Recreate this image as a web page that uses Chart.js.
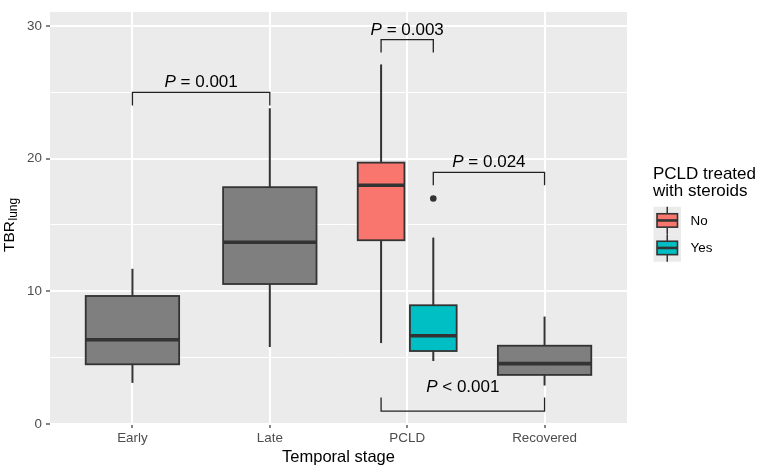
<!DOCTYPE html>
<html>
<head>
<meta charset="utf-8">
<script src="https://cdn.jsdelivr.net/npm/chart.js@4.4.1/dist/chart.umd.min.js"></script>
<style>
  html, body { margin: 0; padding: 0; background: #fff; }
</style>
</head>
<body>
<canvas id="chart" width="760" height="467"></canvas>
<script>
const categories = ['Early', 'Late', 'PCLD', 'Recovered'];

// one entry per box: which category it sits on, and the steroid group (null = not split)
const boxCategory = [0, 1, 2, 2, 3];
const boxTreated = [null, null, 'No', 'Yes', null];
const whiskerLow = [3.1, 5.8, 6.1, 4.75, 2.9];
const lowerQuartile = [4.5, 10.55, 13.85, 5.5, 3.7];
const medians = [6.35, 13.7, 18.0, 6.65, 4.55];
const upperQuartile = [9.65, 17.85, 19.7, 8.95, 5.9];
const whiskerHigh = [11.7, 23.8, 27.1, 14.05, 8.1];

const outlierBox = [3];
const outlierValue = [17.0];

const yTicks = [0, 5, 10, 15, 20, 25, 30];

// significance brackets between boxes
const bracketFrom = [0, 2, 3, 2];
const bracketTo = [1, 3, 4, 4];
const bracketLevel = [25.0, 28.97, 18.96, 0.97];
const bracketTip = [24.0, 28.0, 18.0, 2.0];
const bracketText = ['= 0.001', '= 0.003', '= 0.024', '< 0.001'];

const legendLabels = ['No', 'Yes'];
const legendFill = { No: '#F8766D', Yes: '#00BFC4' };

const FONT = '"Liberation Sans", Arial, sans-serif';
const BOX_WIDTH = 0.68;
const DODGE = 0.19;

function boxX(i) {
    const t = boxTreated[i];
    if (t === 'No') return boxCategory[i] - DODGE;
    if (t === 'Yes') return boxCategory[i] + DODGE;
    return boxCategory[i];
}

function boxFill(i) {
    return boxTreated[i] ? legendFill[boxTreated[i]] : '#7F7F7F';
}

function line(ctx, x1, y1, x2, y2) {
    ctx.beginPath();
    ctx.moveTo(x1, y1);
    ctx.lineTo(x2, y2);
    ctx.stroke();
}

const panelPlugin = {
    id: 'panel',
    beforeDraw(chart) {
        const { ctx, chartArea: a } = chart;
        ctx.save();
        ctx.fillStyle = '#EBEBEB';
        ctx.fillRect(a.left, a.top, a.right - a.left, a.bottom - a.top);
        ctx.restore();
    }
};

const boxPlugin = {
    id: 'boxes',
    beforeDatasetsDraw(chart) {
        const { ctx, scales: { x, y } } = chart;
        const unit = x.getPixelForValue(1) - x.getPixelForValue(0);
        ctx.save();
        ctx.strokeStyle = '#333333';
        for (let i = 0; i < medians.length; i++) {
            const xc = x.getPixelForValue(boxX(i));
            const half = (boxTreated[i] ? BOX_WIDTH / 2 : BOX_WIDTH) * unit / 2;
            const q1 = y.getPixelForValue(lowerQuartile[i]);
            const q3 = y.getPixelForValue(upperQuartile[i]);
            ctx.lineWidth = 2;
            line(ctx, xc, y.getPixelForValue(whiskerHigh[i]), xc, q3);
            line(ctx, xc, q1, xc, y.getPixelForValue(whiskerLow[i]));
            ctx.fillStyle = boxFill(i);
            ctx.fillRect(xc - half, q3, half * 2, q1 - q3);
            ctx.lineWidth = 1.8;
            ctx.strokeRect(xc - half, q3, half * 2, q1 - q3);
            ctx.lineWidth = 3.6;
            const m = y.getPixelForValue(medians[i]);
            line(ctx, xc - half, m, xc + half, m);
        }
        ctx.restore();
    },
    afterDatasetsDraw(chart) {
        const { ctx, scales: { x, y } } = chart;
        ctx.save();
        ctx.strokeStyle = '#222222';
        ctx.lineWidth = 1.3;
        ctx.fillStyle = '#000';
        ctx.textBaseline = 'alphabetic';
        for (let i = 0; i < bracketText.length; i++) {
            const x1 = x.getPixelForValue(boxX(bracketFrom[i]));
            const x2 = x.getPixelForValue(boxX(bracketTo[i]));
            const yl = y.getPixelForValue(bracketLevel[i]);
            const yt = y.getPixelForValue(bracketTip[i]);
            ctx.beginPath();
            ctx.moveTo(x1, yt);
            ctx.lineTo(x1, yl);
            ctx.lineTo(x2, yl);
            ctx.lineTo(x2, yt);
            ctx.stroke();

            const textY = Math.min(yl, yt) - 5;
            ctx.font = 'italic 17px ' + FONT;
            const wP = ctx.measureText('P').width;
            ctx.font = '17px ' + FONT;
            const rest = ' ' + bracketText[i];
            const wR = ctx.measureText(rest).width;
            const start = (x1 + x2) / 2 - (wP + wR) / 2;
            ctx.textAlign = 'left';
            ctx.font = 'italic 17px ' + FONT;
            ctx.fillText('P', start, textY);
            ctx.font = '17px ' + FONT;
            ctx.fillText(rest, start + wP, textY);
        }
        ctx.restore();
    },
    afterDraw(chart) {
        const { ctx, chartArea: a } = chart;
        ctx.save();
        ctx.fillStyle = '#000';

        // x axis title
        ctx.font = '16.5px ' + FONT;
        ctx.textAlign = 'center';
        ctx.textBaseline = 'middle';
        ctx.fillText('Temporal stage', (a.left + a.right) / 2, 457);

        // y axis title with subscript
        ctx.translate(13.5, (a.top + a.bottom) / 2 + 34);
        ctx.rotate(-Math.PI / 2);
        ctx.textAlign = 'left';
        ctx.textBaseline = 'alphabetic';
        ctx.font = '15.5px ' + FONT;
        ctx.fillText('TBR', 0, 0);
        const wT = ctx.measureText('TBR').width;
        ctx.font = '12px ' + FONT;
        ctx.fillText('lung', wT + 0.5, 3.5);
        ctx.setTransform(1, 0, 0, 1, 0, 0);

        // legend
        ctx.font = '17px ' + FONT;
        ctx.fillText('PCLD treated', 653, 178.5);
        ctx.fillText('with steroids', 653, 196);
        const keyX = 653.5, keyW = 27.5, keyH = 27.5;
        let keyY = 206.7;
        legendLabels.forEach(lbl => {
            ctx.fillStyle = '#EBEBEB';
            ctx.fillRect(keyX, keyY, keyW, keyH);
            const cx = keyX + keyW / 2, cy = keyY + keyH / 2;
            ctx.strokeStyle = '#333333';
            ctx.lineWidth = 1.5;
            line(ctx, cx, keyY, cx, keyY + keyH);
            ctx.fillStyle = legendFill[lbl];
            ctx.fillRect(keyX + 3.5, cy - 6.7, keyW - 7, 13.4);
            ctx.lineWidth = 1.6;
            ctx.strokeRect(keyX + 3.5, cy - 6.7, keyW - 7, 13.4);
            ctx.lineWidth = 2.6;
            line(ctx, keyX + 3.5, cy, keyX + keyW - 3.5, cy);
            ctx.fillStyle = '#000';
            ctx.font = '13.4px ' + FONT;
            ctx.textBaseline = 'middle';
            ctx.fillText(lbl, 690.5, cy + 0.5);
            ctx.textBaseline = 'alphabetic';
            keyY += keyH;
        });
        ctx.restore();
    }
};

const ctx = document.getElementById('chart').getContext('2d');
new Chart(ctx, {
    type: 'scatter',
    data: {
        datasets: [{
            label: 'outliers',
            data: outlierBox.map((b, i) => ({ x: boxX(b), y: outlierValue[i] })),
            pointRadius: 3.3,
            pointHoverRadius: 3.3,
            backgroundColor: '#333333',
            borderWidth: 0
        }]
    },
    options: {
        responsive: false,
        animation: false,
        devicePixelRatio: 1,
        layout: { padding: { left: 0, right: 133, top: 0, bottom: 0 } },
        plugins: { legend: { display: false }, tooltip: { enabled: false } },
        scales: {
            x: {
                type: 'linear',
                min: -0.6,
                max: 3.6,
                afterBuildTicks: s => { s.ticks = categories.map((c, i) => ({ value: i })); },
                afterFit: s => { s.height = 43; },
                ticks: {
                    autoSkip: false,
                    maxRotation: 0,
                    padding: 2,
                    color: '#4D4D4D',
                    font: { family: FONT, size: 13.4 },
                    callback: v => categories[v]
                },
                grid: {
                    color: '#FFFFFF',
                    lineWidth: 2,
                    tickColor: '#333333',
                    tickWidth: 1.2,
                    tickLength: 4
                },
                border: { display: false }
            },
            y: {
                min: 0,
                max: 31.05,
                afterBuildTicks: s => { s.ticks = yTicks.map(v => ({ value: v })); },
                afterFit: s => { s.width = 50; },
                ticks: {
                    padding: 4,
                    color: '#4D4D4D',
                    font: { family: FONT, size: 13.4 },
                    callback: v => (v % 10 === 0 ? String(v) : '')
                },
                grid: {
                    color: '#FFFFFF',
                    lineWidth: c => (c.tick && c.tick.value % 10 === 0 ? 2 : 1),
                    tickColor: c => (c.tick && c.tick.value % 10 === 0 ? '#333333' : 'rgba(0,0,0,0)'),
                    tickWidth: 1.2,
                    tickLength: 4
                },
                border: { display: false }
            }
        }
    },
    plugins: [panelPlugin, boxPlugin]
});
</script>
</body>
</html>
